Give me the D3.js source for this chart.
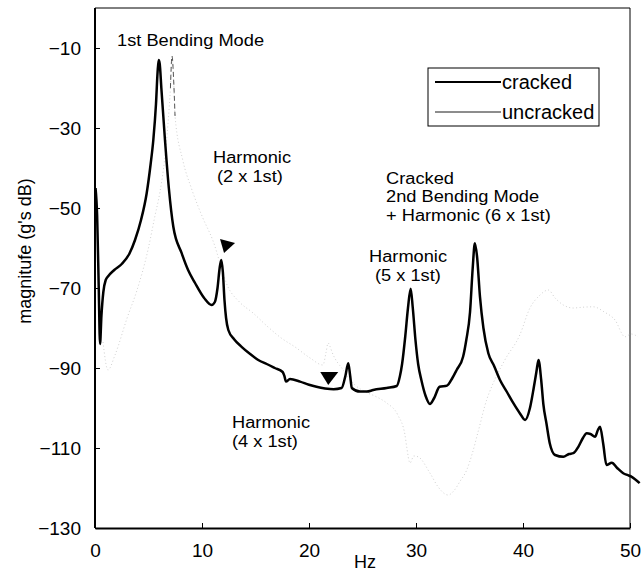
<!DOCTYPE html>
<html>
<head>
<meta charset="utf-8">
<script src="https://cdn.jsdelivr.net/npm/d3@7"></script>
<style>
  html, body { margin: 0; padding: 0; background: #fff; }
  svg { display: block; font-family: "Liberation Sans", Arial, sans-serif; }
</style>
</head>
<body>
<svg id="chart" width="641" height="571"></svg>
<script>
// ---- data ----
const crackedHz = [0.05,0.2,0.35,0.47,0.6,0.78,1.0,1.25,1.8,2.5,3.2,3.74,4.3,4.83,5.2,5.45,5.7,5.85,5.95,6.05,6.2,6.54,6.9,7.32,8.1,8.7,9.35,10.2,10.9,11.2,11.45,11.65,11.8,11.95,12.1,12.25,12.46,13.0,13.7,14.5,15.26,16.05,16.8,17.54,17.7,17.85,18.22,19.16,20.0,20.7,21.5,22.3,23.05,23.4,23.67,23.85,24.0,24.77,25.4,26.0,27.26,28.2,28.5,28.7,29.0,29.25,29.5,29.7,29.95,30.2,30.5,30.9,31.3,31.7,32.2,32.9,33.4,33.8,34.4,34.7,35.05,35.3,35.5,35.7,35.98,36.3,36.76,37.3,37.85,38.5,39.1,39.7,40.2,40.65,41.0,41.25,41.45,41.7,41.9,42.2,42.5,43.0,43.77,44.3,44.7,45.17,45.6,45.95,46.3,46.73,47.0,47.2,47.5,47.8,48.3,48.8,49.37,49.8,50.16,50.9];
const crackedDb = [-45,-52,-70,-84,-77,-71,-68,-67,-65.5,-64,-61.5,-58,-53,-46.3,-39,-33,-24,-16,-13,-14,-20,-33,-45,-54.7,-61.3,-65.5,-68.75,-72.5,-74.25,-73.5,-70,-65,-63,-66,-73,-77.5,-80.5,-82.8,-84.7,-86.5,-88,-89,-90,-91,-92,-93.4,-92.75,-93.4,-94.2,-94.7,-95.1,-95.3,-95,-92,-88.8,-92,-95,-95.9,-95.9,-95.5,-95,-94.5,-92,-89,-82,-75,-70.2,-75,-83,-89,-93,-97,-99,-97.5,-94.7,-94.4,-92.5,-90.5,-87.2,-83,-76,-65,-58.8,-62,-72.2,-80,-86.3,-89.5,-93,-96,-98.8,-101.3,-103,-100,-95,-91,-88,-93,-99,-104,-108.8,-111.75,-112.2,-111.5,-111.3,-109.7,-107.5,-106.3,-106.5,-107.2,-105.5,-104.7,-109,-114.25,-113.7,-115,-116.3,-116.8,-117.2,-118.8];

const uncrackedHz = [0.75,1.21,1.87,3.0,3.93,4.95,5.6,6.07,6.5,6.82,7.05,7.2,7.35,7.48,8.2,9.0,10.0,11.0,12.43,13.5,14.77,16.17,17.4,18.7,20.1,21.3,21.6,21.78,21.95,22.15,23.2,24.3,25.3,26.3,27.26,28.3,28.97,29.13,29.44,29.8,30.2,31.3,32.06,33.0,33.6,34.1,34.74,35.3,35.8,36.6,37.07,38.3,39.7,40.65,41.5,42.37,43.0,43.77,44.7,45.6,46.57,47.6,48.6,49.53,50.1,50.75];
const uncrackedDb = [-83.5,-90.5,-86.75,-77.5,-70.5,-60.5,-52,-46,-38,-29,-20,-12,-18,-27,-38,-45,-52,-58,-69.75,-73.5,-76.25,-79.75,-82.5,-84.75,-87.5,-89.25,-86,-83.75,-84.5,-86,-90.5,-94.25,-96,-97.2,-98.75,-101.75,-106.75,-109.7,-113.75,-112,-112.2,-116.25,-119.7,-121.75,-120.5,-118.4,-115.5,-111,-106,-98,-94.7,-88,-81.75,-75,-72,-70.5,-72.5,-74.25,-75,-74.8,-74.7,-76,-78,-82.2,-81.5,-82.2];

const xTicks = [0, 10, 20, 30, 40, 50];
const yTicks = [-130, -110, -90, -70, -50, -30, -10];
const seriesNames = ["cracked", "uncracked"];

// markers (triangles) pointing at harmonics: [Hz, dB]
const markerHz = [12.06, 21.8];
const markerDb = [-61.25, -94.25];

// ---- layout ----
const svg = d3.select("#chart");
const L = 95, R = 630, T = 8, B = 528;
const x = d3.scaleLinear().domain([0, 50]).range([L, R]);
const y = d3.scaleLinear().domain([-130, 0]).range([B, T]);

const font = "Liberation Sans, Arial, sans-serif";

// frame: top and right thin
svg.append("line").attr("x1", L).attr("x2", R).attr("y1", T).attr("y2", T)
  .attr("stroke", "#000").attr("stroke-width", 1);
svg.append("line").attr("x1", R).attr("x2", R).attr("y1", T).attr("y2", B)
  .attr("stroke", "#000").attr("stroke-width", 1);

// axes
const yAxis = d3.axisLeft(y).tickValues(yTicks).tickSizeInner(-5).tickSizeOuter(0).tickPadding(14);
const xAxis = d3.axisBottom(x).tickValues(xTicks).tickSizeInner(-5).tickSizeOuter(0).tickPadding(16);

const gy = svg.append("g").attr("transform", `translate(${L},0)`).call(yAxis);
const gx = svg.append("g").attr("transform", `translate(0,${B})`).call(xAxis);
[gx, gy].forEach(g => {
  g.select(".domain").attr("stroke", "#000").attr("stroke-width", 2);
  g.selectAll(".tick line").attr("stroke", "#000").attr("stroke-width", 1);
  g.selectAll(".tick text").attr("font-family", font).attr("font-size", 19).attr("fill", "#000");
});
gy.select(".domain").attr("d", `M0,${T}V${B}`);

// axis titles
svg.append("text").attr("x", 365).attr("y", 568).attr("text-anchor", "middle")
  .attr("font-family", font).attr("font-size", 18).text("Hz");
svg.append("text").attr("transform", "translate(31,251) rotate(-90)")
  .attr("text-anchor", "middle").attr("font-family", font).attr("font-size", 18)
  .text("magnitufe (g's dB)");

// lines
const line = d3.line().x(d => x(d[0])).y(d => y(d[1])).curve(d3.curveMonotoneX);
const uncracked = uncrackedHz.map((h, i) => [h, uncrackedDb[i]]);
const cracked = crackedHz.map((h, i) => [h, crackedDb[i]]);

svg.append("path").attr("d", line(uncracked)).attr("fill", "none")
  .attr("stroke", "#c4c4c4").attr("stroke-width", 0.8).attr("stroke-dasharray", "1 2.5");
// darker dashed top of uncracked resonance
const peakPart = uncracked.filter(d => d[0] >= 7.05 && d[0] <= 7.48);
svg.append("path").attr("d", line(peakPart)).attr("fill", "none")
  .attr("stroke", "#555").attr("stroke-width", 1).attr("stroke-dasharray", "5 3");
svg.append("path").attr("d", line(cracked)).attr("fill", "none")
  .attr("stroke", "#000").attr("stroke-width", 2.5).attr("stroke-linejoin", "round");

// markers
const tri0 = "M0,0 L-4,-14 L11,-10 Z";
const tri1 = "M0,0 L-8,-13 L10,-13 Z";
[tri0, tri1].forEach((d, i) => {
  svg.append("path").attr("d", d)
    .attr("transform", `translate(${x(markerHz[i])},${y(markerDb[i])})`)
    .attr("fill", "#000");
});

// annotations
const ann = [
  { t: "1st Bending Mode", x: 117, y: 46 },
  { t: "Harmonic", x: 213, y: 163 },
  { t: "(2 x 1st)", x: 217, y: 182 },
  { t: "Cracked", x: 386, y: 184 },
  { t: "2nd Bending Mode", x: 386, y: 202 },
  { t: "+ Harmonic (6 x 1st)", x: 386, y: 221 },
  { t: "Harmonic", x: 369, y: 262 },
  { t: "(5 x 1st)", x: 375, y: 281 },
  { t: "Harmonic", x: 232, y: 428 },
  { t: "(4 x 1st)", x: 232, y: 447 }
];
svg.append("g").selectAll("text").data(ann).join("text")
  .attr("x", d => d.x).attr("y", d => d.y)
  .attr("font-family", font).attr("font-size", 16).attr("fill", "#000")
  .text(d => d.t)
  .each(function () {
    const w = this.getComputedTextLength();
    d3.select(this).attr("textLength", w * 1.14).attr("lengthAdjust", "spacingAndGlyphs");
  });

// legend
const lg = svg.append("g");
lg.append("rect").attr("x", 428).attr("y", 68).attr("width", 171).attr("height", 58)
  .attr("fill", "#fff").attr("stroke", "#000").attr("stroke-width", 1);
const lw = [2.2, 0.9];
seriesNames.forEach((n, i) => {
  const ly = 82 + i * 30;
  lg.append("line").attr("x1", 435).attr("x2", 501).attr("y1", ly).attr("y2", ly)
    .attr("stroke", "#000").attr("stroke-width", lw[i]);
  lg.append("text").attr("x", 502).attr("y", ly + 7).attr("font-family", font)
    .attr("font-size", 20).text(n);
});
</script>
</body>
</html>
